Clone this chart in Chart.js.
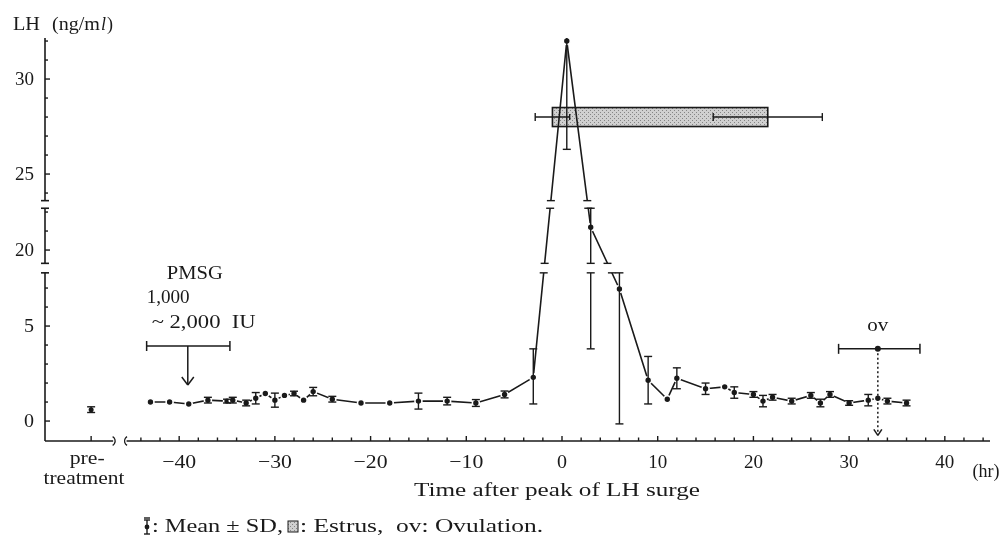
<!DOCTYPE html>
<html>
<head>
<meta charset="utf-8">
<script src="https://cdn.jsdelivr.net/npm/chart.js@4.4.1/dist/chart.umd.min.js"></script>
<style>
  html, body { margin: 0; padding: 0; background: #fff; }
  #wrap { position: relative; width: 1001px; height: 541px; }
</style>
</head>
<body>
<div id="wrap"><canvas id="c" width="1001" height="541"></canvas></div>
<script>
/* Plasma LH around the LH surge (mean ± SD), hours relative to the peak.
 * The y axis is broken twice; values are mapped onto a compressed
 * display scale by toD() and the breaks are painted over afterwards. */
var hours   = [-43, -41, -39, -37, -35, -34.4, -33, -32, -31, -30,
               -29, -28, -27, -26, -24, -21, -18, -15, -12, -9,
               -6, -3, 0.5, 3, 6, 9, 11, 12, 15, 17,
               18, 20, 21, 22, 24, 26, 27, 28, 30, 32,
               33, 34, 36];
var lhMean  = [1.0, 1.0, 0.9, 1.1, 1.05, 1.1, 0.95, 1.2, 1.45, 1.1,
               1.35, 1.45, 1.1, 1.55, 1.15, 0.95, 0.95, 1.05, 1.05, 0.95,
               1.4, 2.3, 32.0, 21.2, 6.95, 2.15, 1.15, 2.25, 1.7, 1.8,
               1.5, 1.4, 1.05, 1.25, 1.05, 1.35, 0.95, 1.4, 0.95, 1.1,
               1.2, 1.05, 0.95];
var sdMinus = [0, 0, 0, 0.15, 0.1, 0.15, 0.15, 0.3, 0, 0.37,
               0, 0.12, 0, 0.22, 0.15, 0, 0, 0.42, 0.2, 0.18,
               0.18, 1.4, 5.7, 17.4, 7.1, 1.25, 0, 0.55, 0.3, 0,
               0.3, 0.15, 0.3, 0.15, 0.15, 0.15, 0.2, 0.15, 0.12, 0.3,
               0, 0.15, 0.15];
var sdPlus  = [0, 0, 0, 0.15, 0.1, 0.15, 0.15, 0.3, 0, 0.37,
               0, 0.12, 0, 0.22, 0.15, 0, 0, 0.42, 0.2, 0.18,
               0.18, 1.5, 6.0, 1.8, 7.0, 1.25, 0, 0.55, 0.3, 0,
               0.3, 0.15, 0.3, 0.15, 0.15, 0.15, 0.2, 0.15, 0.12, 0.3,
               0, 0.15, 0.15];

var preLH = 0.6, preSD = 0.15;            // pre-treatment value
var estrusBox   = [-1.0, 21.5];           // hr
var estrusOnset = [-2.8, 0.8];            // SD end, mean (hr)
var estrusEnd   = [15.8, 27.2];           // mean, SD end (hr)
var estrusLH    = [27.5, 28.5];           // vertical extent of the bar
var ovRange = [28.9, 33, 37.4];           // ovulation: -SD, mean, +SD (hr)
var ovLH = 3.8;
var pmsgRange = [-43.4, -39.1, -34.7];    // PMSG injection window (hr)
var pmsgLH = 3.95, pmsgArrowTo = 1.9;

var xLabels = [-40, -30, -20, -10, 0, 10, 20, 30, 40];
var yLabels = [0, 5, 20, 25, 30];
var yMinor  = [1, 2, 3, 4, 6, 7, 21, 22, 24, 26, 27, 28, 29, 31, 32];

// scale positions (hr units) of the pre-treatment column and the x-axis break
var PRE_T = -49.2, PRE_AXIS_END = -46.9, MAIN_AXIS_START = -45.5;

var INK = '#1a1a1a';
var FONT = '"Liberation Serif", "DejaVu Serif", serif';

// LH value -> display units (two axis breaks)
function toD(v) {
  if (v <= 7.8) return v;
  if (v < 19.3) return 7.8 + (v - 7.8) / 11.5 * 0.5;
  if (v <= 22.2) return v - 11;
  if (v < 23.6) return 11.2 + (v - 22.2) / 1.4 * 0.4;
  return v - 12;
}
var BANDS = [[7.8, 8.3], [11.2, 11.6]];   // in display units

// text squeezed/stretched horizontally to the width it has in the scan
function drawText(ctx, s, x, y, o) {
  o = o || {};
  ctx.save();
  ctx.font = (o.italic ? 'italic ' : '') + (o.size || 19) + 'px ' + FONT;
  var w = ctx.measureText(s).width;
  var k = o.width ? o.width / w : 1;
  var total = w * k;
  var x0 = x;
  if (o.align === 'center') x0 = x - total / 2;
  else if (o.align === 'right') x0 = x - total;
  ctx.translate(x0, y);
  ctx.scale(k, 1);
  ctx.textAlign = 'left';
  ctx.textBaseline = 'middle';
  ctx.fillStyle = INK;
  ctx.fillText(s, 0, 0);
  ctx.restore();
  return x0 + total;
}

function line(ctx, x1, y1, x2, y2) {
  ctx.beginPath(); ctx.moveTo(x1, y1); ctx.lineTo(x2, y2); ctx.stroke();
}

function stipple(ctx) {
  var c = document.createElement('canvas');
  c.width = 4; c.height = 4;
  var g = c.getContext('2d');
  g.fillStyle = '#d0d0d0'; g.fillRect(0, 0, 4, 4);
  g.fillStyle = '#858585'; g.fillRect(0, 0, 1, 1); g.fillRect(2, 2, 1, 1);
  return ctx.createPattern(c, 'repeat');
}

var decor = {
  id: 'decor',
  beforeDatasetsDraw: function (chart) {
    var ctx = chart.ctx, xs = chart.scales.x, ys = chart.scales.y;
    function X(t) { return xs.getPixelForValue(t); }
    function Y(v) { return ys.getPixelForValue(toD(v)); }
    ctx.save();
    // estrus bar with onset / end whiskers
    var x1 = X(estrusBox[0]), x2 = X(estrusBox[1]);
    var yt = Y(estrusLH[1]), yb = Y(estrusLH[0]), ym = (yt + yb) / 2;
    ctx.fillStyle = stipple(ctx);
    ctx.fillRect(x1, yt, x2 - x1, yb - yt);
    ctx.strokeStyle = INK; ctx.lineWidth = 1.6;
    ctx.strokeRect(x1, yt, x2 - x1, yb - yt);
    ctx.lineWidth = 1.4;
    line(ctx, X(estrusOnset[0]), ym, X(estrusOnset[1]), ym);
    line(ctx, X(estrusOnset[0]), ym - 4, X(estrusOnset[0]), ym + 4);
    line(ctx, X(estrusOnset[1]), ym - 3, X(estrusOnset[1]), ym + 3);
    line(ctx, X(estrusEnd[0]), ym, X(estrusEnd[1]), ym);
    line(ctx, X(estrusEnd[0]), ym - 4, X(estrusEnd[0]), ym + 4);
    line(ctx, X(estrusEnd[1]), ym - 4, X(estrusEnd[1]), ym + 4);
    ctx.restore();
  },
  afterDatasetsDraw: function (chart) {
    var ctx = chart.ctx, xs = chart.scales.x, ys = chart.scales.y, a = chart.chartArea;
    function X(t) { return xs.getPixelForValue(t); }
    function Y(v) { return ys.getPixelForValue(toD(v)); }
    function YD(d) { return ys.getPixelForValue(d); }
    ctx.save();
    ctx.strokeStyle = INK; ctx.fillStyle = INK;
    ctx.lineCap = 'butt';

    // vertical error bars
    var bars = [];
    ctx.save();
    ctx.beginPath(); ctx.rect(a.left, a.top, a.right - a.left, a.bottom - a.top); ctx.clip();
    ctx.lineWidth = 1.4;
    hours.forEach(function (t, i) {
      if (!sdMinus[i] && !sdPlus[i]) return;
      var x = X(t), y1 = Y(lhMean[i] - sdMinus[i]), y2 = Y(lhMean[i] + sdPlus[i]);
      line(ctx, x, y1, x, y2);
      line(ctx, x - 4, y1, x + 4, y1);
      line(ctx, x - 4, y2, x + 4, y2);
      bars.push([x, y1, x, y2]);
    });
    var px = X(PRE_T), p1 = Y(preLH - preSD), p2 = Y(preLH + preSD);
    line(ctx, px, p1, px, p2); line(ctx, px - 4, p1, px + 4, p1); line(ctx, px - 4, p2, px + 4, p2);
    ctx.restore();

    // ovulation: horizontal SD bar + dotted arrow to the axis
    var oy = Y(ovLH);
    ctx.lineWidth = 1.5;
    line(ctx, X(ovRange[0]), oy, X(ovRange[2]), oy);
    line(ctx, X(ovRange[0]), oy - 5, X(ovRange[0]), oy + 5);
    line(ctx, X(ovRange[2]), oy - 5, X(ovRange[2]), oy + 5);
    var ox = X(ovRange[1]), tip = YD(-0.75);
    ctx.setLineDash([2, 2.5]);
    line(ctx, ox, oy, ox, tip);
    ctx.setLineDash([]);
    line(ctx, ox - 4, tip - 6, ox, tip); line(ctx, ox + 4, tip - 6, ox, tip);

    // PMSG window and arrow
    var my = Y(pmsgLH), ay = Y(pmsgArrowTo), mx = X(pmsgRange[1]);
    line(ctx, X(pmsgRange[0]), my, X(pmsgRange[2]), my);
    line(ctx, X(pmsgRange[0]), my - 5, X(pmsgRange[0]), my + 5);
    line(ctx, X(pmsgRange[2]), my - 5, X(pmsgRange[2]), my + 5);
    line(ctx, mx, my, mx, ay);
    line(ctx, mx - 6, ay - 8, mx, ay); line(ctx, mx + 6, ay - 8, mx, ay);

    // white out the axis breaks, then mark where lines were cut
    ctx.fillStyle = '#fff';
    BANDS.forEach(function (b) {
      var top = YD(b[1]), bot = YD(b[0]);
      ctx.fillRect(a.left - 8, top, a.right - a.left + 8, bot - top);
    });
    ctx.fillStyle = INK;
    var segs = bars.slice();
    var meta = chart.getDatasetMeta(0).data;
    for (var i = 1; i < meta.length; i++) segs.push([meta[i - 1].x, meta[i - 1].y, meta[i].x, meta[i].y]);
    ctx.lineWidth = 1.4;
    BANDS.forEach(function (b) {
      [YD(b[0]), YD(b[1])].forEach(function (ye) {
        segs.forEach(function (s) {
          if ((s[1] - ye) * (s[3] - ye) >= 0) return;
          var xe = s[0] + (ye - s[1]) / (s[3] - s[1]) * (s[2] - s[0]);
          line(ctx, xe - 4, ye, xe + 4, ye);
        });
      });
    });

    // annotations (after the white-out so they stay whole)
    drawText(ctx, 'ov', ox, oy - 23, { align: 'center', size: 18, width: 21 });
    drawText(ctx, 'PMSG', mx + 7, 274, { align: 'center', width: 56 });
    drawText(ctx, '1,000', X(pmsgRange[0]), 298, { width: 43 });
    drawText(ctx, '~ 2,000  IU', X(pmsgRange[0]) + 5, 323, { width: 104 });

    // y axis (broken)
    ctx.lineWidth = 1.6;
    var ax = a.left;
    line(ctx, ax, a.bottom, ax, YD(BANDS[0][0]));
    line(ctx, ax, YD(BANDS[0][1]), ax, YD(BANDS[1][0]));
    line(ctx, ax, YD(BANDS[1][1]), ax, a.top);
    BANDS.forEach(function (b) {
      [YD(b[0]), YD(b[1])].forEach(function (ye) { line(ctx, ax - 4, ye, ax + 4, ye); });
    });
    ctx.lineWidth = 1.4;
    yLabels.forEach(function (v) {
      var y = Y(v);
      line(ctx, ax, y, ax + 5, y);
      drawText(ctx, String(v), ax - 11, y + 1, { align: 'right', width: v < 10 ? 10 : 19 });
    });
    yMinor.forEach(function (v) { var y = Y(v); line(ctx, ax, y, ax + 3, y); });
    drawText(ctx, 'LH', 13, 25, { size: 18, width: 27 });
    var e = drawText(ctx, '(ng/m', 52, 25, { size: 18, width: 48 });
    e = drawText(ctx, 'l', e + 1, 25, { size: 18, italic: true });
    drawText(ctx, ')', e + 1, 25, { size: 18 });

    // x axis (broken between pre-treatment and the time course)
    var by = a.bottom;
    ctx.lineWidth = 1.6;
    var xb1 = X(PRE_AXIS_END), xb2 = X(MAIN_AXIS_START);
    line(ctx, a.left, by, xb1, by);
    line(ctx, xb2, by, a.right, by);
    ctx.lineWidth = 1.3;
    ctx.beginPath(); ctx.arc(xb1 - 3, by, 5, -Math.PI / 3, Math.PI / 3); ctx.stroke();
    ctx.beginPath(); ctx.arc(xb2 + 3, by, 5, Math.PI * 2 / 3, Math.PI * 4 / 3); ctx.stroke();
    ctx.lineWidth = 1.4;
    line(ctx, px, by, px, by - 5);
    for (var t = -44; t <= 44; t += 2) {
      var tx = X(t);
      if (tx < xb2 + 2 || tx > a.right) continue;
      line(ctx, tx, by, tx, by - (t % 10 === 0 ? 5 : 3.5));
    }
    xLabels.forEach(function (v) {
      var s = v < 0 ? '\u2212' + Math.abs(v) : String(v);
      drawText(ctx, s, X(v), 463, { align: 'center', width: v < 0 ? 34 : (v === 0 ? 10 : 19) });
    });
    drawText(ctx, '(hr)', 986, 472, { align: 'center', width: 27 });
    drawText(ctx, 'pre-', px - 4, 459, { align: 'center', width: 35 });
    drawText(ctx, 'treatment', 84, 479, { align: 'center', width: 81 });
    drawText(ctx, 'Time after peak of LH surge', 557, 491, { align: 'center', width: 286 });

    // legend line
    var ly = 527, lx = 147;
    line(ctx, lx, ly - 7, lx, ly + 7);
    line(ctx, lx - 3, ly - 7, lx + 3, ly - 7); line(ctx, lx - 3, ly + 7, lx + 3, ly + 7);
    line(ctx, lx - 3, ly - 9, lx + 3, ly - 9);
    ctx.beginPath(); ctx.arc(lx, ly, 2.4, 0, Math.PI * 2); ctx.fill();
    drawText(ctx, ': Mean \u00b1 SD,', 152, ly, { width: 131 });
    ctx.fillStyle = stipple(ctx);
    ctx.fillRect(288, ly - 6, 10, 11);
    ctx.lineWidth = 1; ctx.strokeRect(288, ly - 6, 10, 11);
    drawText(ctx, ': Estrus,  ov: Ovulation.', 300, ly, { width: 243 });
    ctx.restore();
  }
};

var mainPts = hours.map(function (t, i) { return { x: t, y: toD(lhMean[i]) }; });

new Chart(document.getElementById('c'), {
  type: 'line',
  data: {
    datasets: [
      {
        data: mainPts,
        borderColor: INK, borderWidth: 1.6, tension: 0,
        pointRadius: 3.5, pointBackgroundColor: INK,
        pointBorderColor: '#fff', pointBorderWidth: 1.6
      },
      {
        data: [{ x: PRE_T, y: toD(preLH) }], showLine: false,
        pointRadius: 2.5, pointBackgroundColor: INK, pointBorderWidth: 0
      },
      {
        data: [{ x: ovRange[1], y: toD(ovLH) }], showLine: false,
        pointRadius: 3, pointBackgroundColor: INK, pointBorderWidth: 0
      }
    ]
  },
  options: {
    responsive: false, animation: false, devicePixelRatio: 1,
    layout: { padding: { left: 45, top: 38, right: 11, bottom: 100 } },
    scales: {
      x: { type: 'linear', min: -54.02, max: 44.72, display: false },
      y: { type: 'linear', min: -1.05, max: 20.16, display: false }
    },
    plugins: { legend: { display: false }, tooltip: { enabled: false } }
  },
  plugins: [decor]
});
</script>
</body>
</html>
